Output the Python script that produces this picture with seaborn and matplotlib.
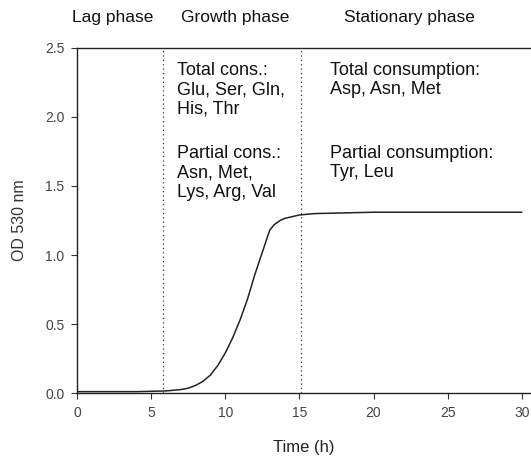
import matplotlib
matplotlib.use('Agg')
import matplotlib.pyplot as plt
import seaborn as sns
import pandas as pd

# growth curve data
time_h = [0, 2, 4, 6, 7, 7.5, 8, 8.5, 9, 9.5, 10, 10.5, 11, 11.5, 12, 12.5,
          13, 13.3, 13.7, 14, 15, 16, 18, 20, 25, 30]
od530 = [0.01, 0.01, 0.01, 0.015, 0.025, 0.035, 0.055, 0.085, 0.13, 0.2, 0.29,
         0.4, 0.53, 0.68, 0.86, 1.02, 1.18, 1.22, 1.25, 1.265, 1.29, 1.30,
         1.305, 1.31, 1.31, 1.31]

phase_bounds = [5.8, 15.1]
phase_names = ['Lag phase', 'Growth phase', 'Stationary phase']
phase_centers = [2.4, 10.7, 22.4]

growth_total = 'Total cons.:\nGlu, Ser, Gln,\nHis, Thr'
growth_partial = 'Partial cons.:\nAsn, Met,\nLys, Arg, Val'
stat_total = 'Total consumption:\nAsp, Asn, Met'
stat_partial = 'Partial consumption:\nTyr, Leu'

x_ticks = [0, 5, 10, 15, 20, 25, 30]
y_ticks = [0.0, 0.5, 1.0, 1.5, 2.0, 2.5]

df = pd.DataFrame({'Time (h)': time_h, 'OD 530 nm': od530})

sns.set_style('ticks')
plt.rcParams['font.family'] = ['Liberation Sans', 'DejaVu Sans']

fig = plt.figure(figsize=(5.31, 4.57), dpi=100)
ax = fig.add_axes([0.145, 0.140, 0.853, 0.755])

sns.lineplot(data=df, x='Time (h)', y='OD 530 nm', ax=ax, color='#222222', linewidth=1.1)

# phase boundaries
for b in phase_bounds:
    ax.plot([b, b], [0, 2.5], color='#333333', linestyle=(0, (1, 2.5)), linewidth=0.9)

ax.set_xlim(0, 30.55)
ax.set_ylim(0, 2.5)
ax.set_xticks(x_ticks)
ax.set_yticks(y_ticks)
ax.set_xticklabels([str(t) for t in x_ticks])
ax.set_yticklabels([f'{t:.1f}' for t in y_ticks])
ax.tick_params(direction='out', length=4, width=0.8, labelsize=10, colors='#333333', pad=5)
ax.tick_params(labelcolor='#444444')

ax.spines['right'].set_visible(False)
ax.spines['top'].set_visible(True)
for s in ['left', 'bottom', 'top']:
    ax.spines[s].set_color('#222222')
    ax.spines[s].set_linewidth(1.0)

ax.set_xlabel('Time (h)', fontsize=12, color='#222222', labelpad=15)
ax.set_ylabel('OD 530 nm', fontsize=11.5, color='#333333', labelpad=13)

tr = ax.get_xaxis_transform()
for name, c in zip(phase_names, phase_centers):
    ax.text(c, 1.087, name, transform=tr, ha='center', va='center', fontsize=12.5, color='#111111')

kw = dict(ha='left', va='top', fontsize=13, color='#111111', linespacing=1.2)
ax.text(6.74, 2.40, growth_total, **kw)
ax.text(6.74, 1.80, growth_partial, **kw)
ax.text(17.06, 2.40, stat_total, **kw)
ax.text(17.06, 1.80, stat_partial, **kw)

fig.savefig('out.png', dpi=100)
